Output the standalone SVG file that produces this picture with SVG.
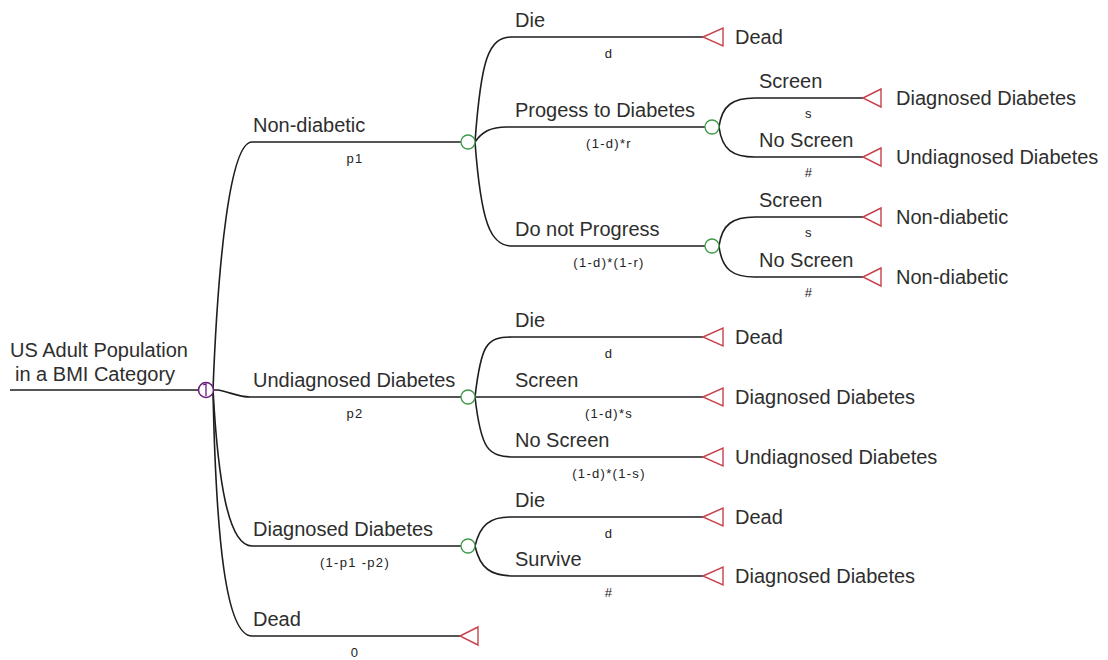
<svg xmlns="http://www.w3.org/2000/svg" width="1108" height="660" viewBox="0 0 1108 660">
<style>
.ln{fill:none;stroke:#1e1e1e;stroke-width:1.6}
.ch{fill:#fff;stroke:#3f9a4a;stroke-width:1.3}
.tm{fill:#fff;stroke:#c8424c;stroke-width:1.4}
.lb{font-family:"Liberation Sans",Arial,sans-serif;font-size:20px;fill:#2e2e2e}
.pr{font-family:"Liberation Sans",Arial,sans-serif;font-size:13px;fill:#222;text-anchor:middle;letter-spacing:1.3px}
</style>
<rect width="1108" height="660" fill="#fff"/>
<g id="connectors">
<path class="ln" d="M10,390 H199"/>
<path class="ln" d="M213,390 C218,260 230,142 252,142 H461"/>
<path class="ln" d="M213,390 L218,390 C230,392 238,397 250,397 H461"/>
<path class="ln" d="M213,390 C218,480 228,546 252,546 H461"/>
<path class="ln" d="M213,390 C216,540 226,636 252,636 H460"/>
<path class="ln" d="M475,142 C481,60 488,37 512,37 H703"/>
<path class="ln" d="M475,142 C482,132 490,127 507,127 H705"/>
<path class="ln" d="M475,142 C481,222 490,246 512,246 H705"/>
<path class="ln" d="M719,127 C722,105 733,98 755,98 H863"/>
<path class="ln" d="M719,127 C722,150 733,157 755,157 H863"/>
<path class="ln" d="M719,246 C722,224 733,217 755,217 H863"/>
<path class="ln" d="M719,246 C722,270 733,277 755,277 H863"/>
<path class="ln" d="M475,397 C481,345 486,337 512,337 H703"/>
<path class="ln" d="M475,397 H703"/>
<path class="ln" d="M475,397 C481,450 488,457 515,457 H703"/>
<path class="ln" d="M475,546 C480,525 490,517 510,517 H703"/>
<path class="ln" d="M475,546 C480,568 490,576 515,576 H703"/>
</g>
<g id="root">
<circle cx="206" cy="390" r="7.5" fill="#fff" stroke="#6a1a7a" stroke-width="1.5"/>
<path d="M203,385 L206,384 V396" fill="none" stroke="#6a1a7a" stroke-width="1.3"/>
<text class="lb" x="10" y="357">US Adult Population</text>
<text class="lb" x="15" y="381">in a BMI Category</text>
</g>
<g id="b-nondiabetic">
<text class="lb" x="253" y="132">Non-diabetic</text>
<text class="pr" x="355" y="163">p1</text>
<circle class="ch" cx="468" cy="142" r="7"/>
</g>
<g id="b-undiagnosed">
<text class="lb" x="253" y="387">Undiagnosed Diabetes</text>
<text class="pr" x="355" y="418">p2</text>
<circle class="ch" cx="468" cy="397" r="7"/>
</g>
<g id="b-diagnosed">
<text class="lb" x="253" y="536">Diagnosed Diabetes</text>
<text class="pr" x="355" y="567">(1-p1 -p2)</text>
<circle class="ch" cx="468" cy="546" r="7"/>
</g>
<g id="b-dead">
<text class="lb" x="253" y="626">Dead</text>
<text class="pr" x="355" y="657">0</text>
<polygon class="tm" points="460,636 478,627 478,645"/>
</g>
<g id="nd-die">
<text class="lb" x="515" y="27">Die</text>
<text class="pr" x="609" y="58">d</text>
<polygon class="tm" points="703,37 723,28 723,46"/>
<text class="lb" x="735" y="44">Dead</text>
</g>
<g id="nd-progress">
<text class="lb" x="515" y="117">Progess to Diabetes</text>
<text class="pr" x="609" y="148">(1-d)*r</text>
<circle class="ch" cx="712" cy="127" r="7"/>
</g>
<g id="nd-progress-screen">
<text class="lb" x="759" y="88">Screen</text>
<text class="pr" x="809" y="118">s</text>
<polygon class="tm" points="863,98 881,89 881,107"/>
<text class="lb" x="896" y="105">Diagnosed Diabetes</text>
</g>
<g id="nd-progress-noscreen">
<text class="lb" x="759" y="147">No Screen</text>
<text class="pr" x="809" y="177">#</text>
<polygon class="tm" points="863,157 881,148 881,166"/>
<text class="lb" x="896" y="164">Undiagnosed Diabetes</text>
</g>
<g id="nd-noprogress">
<text class="lb" x="515" y="236">Do not Progress</text>
<text class="pr" x="609" y="267">(1-d)*(1-r)</text>
<circle class="ch" cx="712" cy="246" r="7"/>
</g>
<g id="nd-noprogress-screen">
<text class="lb" x="759" y="207">Screen</text>
<text class="pr" x="809" y="237">s</text>
<polygon class="tm" points="863,217 881,208 881,226"/>
<text class="lb" x="896" y="224">Non-diabetic</text>
</g>
<g id="nd-noprogress-noscreen">
<text class="lb" x="759" y="267">No Screen</text>
<text class="pr" x="809" y="297">#</text>
<polygon class="tm" points="863,277 881,268 881,286"/>
<text class="lb" x="896" y="284">Non-diabetic</text>
</g>
<g id="ud-die">
<text class="lb" x="515" y="327">Die</text>
<text class="pr" x="609" y="358">d</text>
<polygon class="tm" points="703,337 723,328 723,346"/>
<text class="lb" x="735" y="344">Dead</text>
</g>
<g id="ud-screen">
<text class="lb" x="515" y="387">Screen</text>
<text class="pr" x="609" y="418">(1-d)*s</text>
<polygon class="tm" points="703,397 723,388 723,406"/>
<text class="lb" x="735" y="404">Diagnosed Diabetes</text>
</g>
<g id="ud-noscreen">
<text class="lb" x="515" y="447">No Screen</text>
<text class="pr" x="609" y="478">(1-d)*(1-s)</text>
<polygon class="tm" points="703,457 723,448 723,466"/>
<text class="lb" x="735" y="464">Undiagnosed Diabetes</text>
</g>
<g id="dd-die">
<text class="lb" x="515" y="507">Die</text>
<text class="pr" x="609" y="538">d</text>
<polygon class="tm" points="703,517 723,508 723,526"/>
<text class="lb" x="735" y="524">Dead</text>
</g>
<g id="dd-survive">
<text class="lb" x="515" y="566">Survive</text>
<text class="pr" x="609" y="597">#</text>
<polygon class="tm" points="703,576 723,567 723,585"/>
<text class="lb" x="735" y="583">Diagnosed Diabetes</text>
</g>
</svg>
